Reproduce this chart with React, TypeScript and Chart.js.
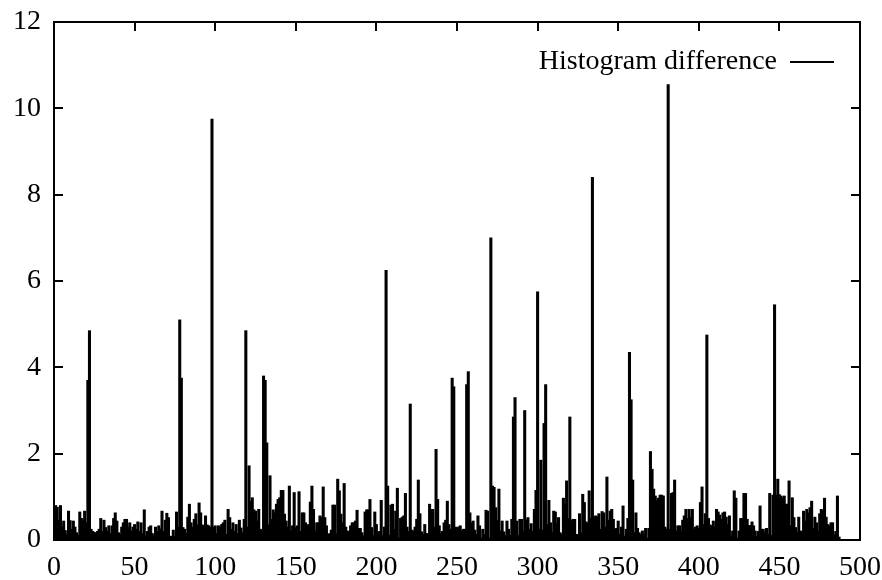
import React, { useEffect, useRef } from "react";
import { Chart, registerables } from "chart.js";

Chart.register(...registerables);

const seriesLabel = "Histogram difference";
const xMin = 0;
const xMax = 500;
const xStep = 50;
const yMin = 0;
const yMax = 12;
const yStep = 2;

// Histogram difference per frame index (index = frame number)
const histDiff: number[] = [
  0.79, 0.8, 0.76, 0.46, 0.8, 0.3, 0.44, 0.22, 0.12, 0.67,
  0.45, 0.25, 0.44, 0.3, 0.17, 0.1, 0.65, 0.5, 0.45, 0.67,
  0.4, 3.7, 4.85, 0.25, 0.2, 0.18, 0.15, 0.2, 0.25, 0.5,
  0.2, 0.46, 0.29, 0.2, 0.33, 0.15, 0.33, 0.5, 0.63, 0.44,
  0.17, 0.13, 0.3, 0.4, 0.48, 0.48, 0.29, 0.4, 0.21, 0.3,
  0.36, 0.25, 0.42, 0.2, 0.4, 0.15, 0.7, 0.1, 0.2, 0.3,
  0.33, 0.15, 0.09, 0.3, 0.2, 0.33, 0.26, 0.67, 0.2, 0.46,
  0.62, 0.52, 0.09, 0.08, 0.23, 0.08, 0.65, 0.3, 5.1, 3.75,
  0.29, 0.25, 0.15, 0.53, 0.83, 0.4, 0.3, 0.48, 0.61, 0.35,
  0.86, 0.63, 0.35, 0.33, 0.56, 0.35, 0.33, 0.3, 9.75, 0.3,
  0.33, 0.15, 0.33, 0.29, 0.36, 0.4, 0.46, 0.13, 0.71, 0.52,
  0.25, 0.4, 0.2, 0.36, 0.15, 0.46, 0.28, 0.17, 0.48, 4.85,
  0.3, 1.72, 0.9, 0.98, 0.7, 0.67, 0.44, 0.71, 0.25, 0.21,
  3.8, 3.7, 2.25, 0.35, 1.49, 0.48, 0.7, 0.63, 0.83, 0.94,
  0.98, 1.15, 1.15, 0.6, 0.44, 0.3, 1.25, 0.21, 0.33, 1.1,
  0.29, 0.33, 1.12, 0.2, 0.63, 0.63, 0.4, 0.35, 0.36, 0.88,
  1.25, 0.71, 0.21, 0.4, 0.4, 0.56, 0.52, 1.23, 0.52, 0.33,
  0.13, 0.15, 0.23, 0.81, 0.81, 0.15, 1.41, 1.14, 0.6, 0.4,
  1.31, 0.3, 0.21, 0.19, 0.33, 0.4, 0.4, 0.44, 0.69, 0.27,
  0.27, 0.17, 0.1, 0.65, 0.7, 0.7, 0.94, 0.29, 0.11, 0.65,
  0.36, 0.17, 0.2, 0.92, 0.1, 0.3, 6.25, 1.25, 0.11, 0.81,
  0.83, 0.25, 0.67, 1.2, 0.04, 0.5, 0.53, 0.56, 1.08, 0.3,
  0.2, 3.15, 0.23, 0.21, 0.3, 0.48, 1.39, 0.61, 0.19, 0.13,
  0.36, 0.15, 0.15, 0.83, 0.71, 0.71, 0.3, 2.1, 0.94, 0.33,
  0.15, 0.2, 0.4, 0.46, 0.9, 0.36, 0.25, 3.75, 3.55, 0.3,
  0.28, 0.3, 0.33, 0.21, 0.25, 0.25, 3.6, 3.9, 0.63, 0.4,
  0.44, 0.23, 0.13, 0.56, 0.33, 0.05, 0.25, 0.13, 0.69, 0.67,
  0.05, 7.0, 1.25, 1.22, 0.75, 0.46, 1.18, 0.21, 0.44, 0.19,
  0.1, 0.44, 0.25, 0.11, 0.48, 2.85, 3.3, 0.44, 0.11, 0.48,
  0.48, 0.21, 3.0, 0.46, 0.52, 0.25, 0.38, 0.2, 0.71, 1.15,
  5.75, 0.25, 1.85, 0.23, 2.7, 3.6, 0.36, 0.92, 0.4, 0.17,
  0.67, 0.65, 0.38, 0.52, 0.17, 0.13, 0.97, 0.84, 1.37, 0.5,
  2.85, 0.45, 0.48, 0.48, 0.13, 0.13, 0.61, 0.17, 1.06, 0.87,
  0.42, 0.4, 1.14, 0.5, 8.4, 0.52, 0.56, 0.54, 0.61, 0.25,
  0.66, 0.63, 0.3, 1.46, 0.46, 0.67, 0.71, 0.48, 0.25, 0.27,
  0.44, 0.13, 0.3, 0.79, 0.09, 0.25, 0.5, 4.35, 3.25, 1.39,
  0.17, 0.63, 0.27, 0.17, 0.13, 0.21, 0.12, 0.27, 0.04, 0.27,
  2.05, 1.64, 1.18, 1.02, 0.92, 0.97, 1.04, 1.04, 1.02, 0.3,
  0.25, 10.55, 0.25, 1.08, 1.1, 1.39, 0.21, 0.33, 0.33, 0.21,
  0.46, 0.56, 0.71, 0.5, 0.71, 0.53, 0.71, 0.25, 0.3, 0.33,
  0.27, 0.87, 1.23, 0.36, 0.61, 4.75, 0.5, 0.35, 0.33, 0.44,
  0.3, 0.71, 0.65, 0.58, 0.48, 0.63, 0.65, 0.53, 0.36, 0.56,
  0.09, 0.21, 1.14, 0.97, 0.05, 0.21, 0.5, 0.5, 1.08, 1.08,
  0.48, 0.34, 0.33, 0.42, 0.33, 0.21, 0.09, 0.2, 0.79, 0.25,
  0.25, 0.17, 0.27, 0.13, 1.08, 0.11, 1.04, 5.45, 1.04, 1.41,
  1.05, 1.02, 0.98, 1.02, 0.83, 0.83, 1.37, 0.33, 0.98, 0.52,
  0.29, 0.17, 0.53, 0.21, 0.19, 0.67, 0.44, 0.71, 0.63, 0.75,
  0.9, 0.27, 0.53, 0.4, 0.21, 0.61, 0.71, 0.67, 0.97, 0.53,
  0.36, 0.33, 0.4, 0.4, 0.12, 0.2, 1.02, 0.07,
];

const FONT = "'Liberation Serif', 'Times New Roman', serif";
const FONT_SIZE = 28;
const TICK_LEN = 9;

const framePlugin = {
  id: "gnuplotFrame",
  afterDraw(chart: any) {
    const ctx = chart.ctx;
    const { left, right, top, bottom } = chart.chartArea;
    const xs = chart.scales.x;
    const ys = chart.scales.y;
    ctx.save();
    ctx.strokeStyle = "#000";
    ctx.lineWidth = 2;
    ctx.beginPath();
    ys.ticks.forEach((t: any) => {
      const y = Math.round(ys.getPixelForValue(t.value));
      ctx.moveTo(left, y);
      ctx.lineTo(left + TICK_LEN, y);
      ctx.moveTo(right, y);
      ctx.lineTo(right - TICK_LEN, y);
    });
    xs.ticks.forEach((t: any) => {
      const x = Math.round(xs.getPixelForValue(t.value));
      ctx.moveTo(x, bottom);
      ctx.lineTo(x, bottom - TICK_LEN);
      ctx.moveTo(x, top);
      ctx.lineTo(x, top + TICK_LEN);
    });
    ctx.stroke();
    ctx.strokeRect(left, top, right - left, bottom - top);

    // legend (gnuplot style: text, then line sample, top right inside)
    const label = chart.data.datasets[0].label;
    ctx.font = `${FONT_SIZE}px ${FONT}`;
    ctx.fillStyle = "#000";
    ctx.textAlign = "right";
    ctx.textBaseline = "middle";
    const ly = top + 40;
    const lineEnd = right - 26;
    const lineStart = lineEnd - 44;
    ctx.fillText(label, lineStart - 13, ly);
    ctx.beginPath();
    ctx.moveTo(lineStart, ly);
    ctx.lineTo(lineEnd, ly);
    ctx.stroke();
    ctx.restore();
  },
};

export default function App() {
  const ref = useRef<HTMLCanvasElement | null>(null);

  useEffect(() => {
    document.body.style.margin = "0";
    const canvas = ref.current;
    if (!canvas) return;
    const chart = new Chart(canvas, {
      type: "bar",
      data: {
        datasets: [
          {
            label: seriesLabel,
            data: histDiff.map((v, i) => ({ x: i, y: v })),
            backgroundColor: "#000",
            borderWidth: 0,
            barThickness: 2.4,
            grouped: false,
          } as any,
        ],
      },
      options: {
        animation: false,
        responsive: false,
        devicePixelRatio: 1,
        layout: { padding: { top: 22, right: 22, left: 0, bottom: 0 } },
        plugins: {
          legend: { display: false },
          tooltip: { enabled: false },
        },
        scales: {
          x: {
            type: "linear",
            min: xMin,
            max: xMax,
            offset: false,
            grid: { display: false, drawTicks: false },
            border: { display: false },
            ticks: {
              stepSize: xStep,
              color: "#000",
              font: { family: FONT, size: FONT_SIZE },
              padding: 11,
              maxRotation: 0,
              autoSkip: false,
            },
            afterFit(scale: any) {
              scale.height = 40;
              scale.paddingLeft = 0;
              scale.paddingRight = 0;
            },
          },
          y: {
            min: yMin,
            max: yMax,
            grid: { display: false, drawTicks: false },
            border: { display: false },
            ticks: {
              stepSize: yStep,
              color: "#000",
              font: { family: FONT, size: FONT_SIZE },
              padding: 13,
            },
            afterFit(scale: any) {
              scale.width = 54;
              scale.paddingTop = 0;
              scale.paddingBottom = 0;
            },
          },
        },
      },
      plugins: [framePlugin],
    });
    return () => chart.destroy();
  }, []);

  return (
    <div style={{ width: 882, height: 580, background: "#fff" }}>
      <canvas ref={ref} width={882} height={580} />
    </div>
  );
}
